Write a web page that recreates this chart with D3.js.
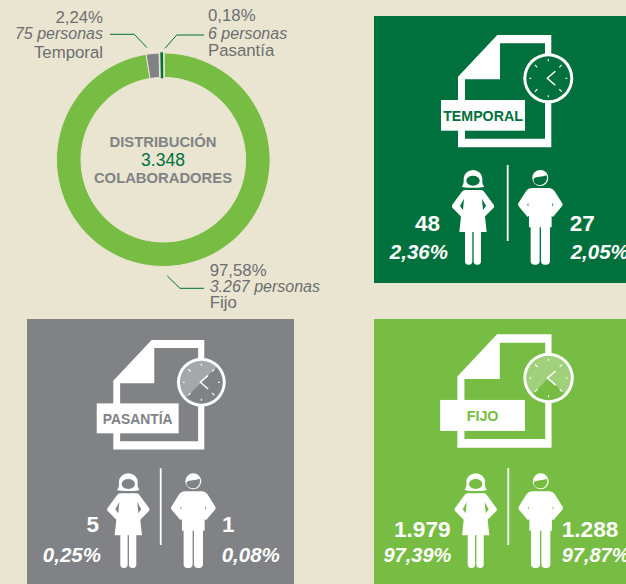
<!DOCTYPE html>
<html>
<head>
<meta charset="utf-8">
<script src="https://cdn.jsdelivr.net/npm/d3@7"></script>
<style>
html, body { margin: 0; padding: 0; background: #e9e5d0; overflow: hidden; }
svg { display: block; }
text { font-family: "Liberation Sans", Arial, sans-serif; }
</style>
</head>
<body>
<svg id="chart" width="626" height="584"></svg>
<script>
// Donut data, in drawing order (clockwise from the top)
var categories = ['Fijo', 'Temporal', 'Pasantía'];
var shareValues = [97.58, 2.24, 0.18];
var shareLabels = ['97,58%', '2,24%', '0,18%'];
var peopleLabels = ['3.267 personas', '75 personas', '6 personas'];

var centerTitle = 'DISTRIBUCIÓN';
var centerTotal = '3.348';
var centerFoot = 'COLABORADORES';

// Panel data
var panelNames = ['TEMPORAL', 'PASANTÍA', 'FIJO'];
var womenCounts = ['48', '5', '1.979'];
var womenShares = ['2,36%', '0,25%', '97,39%'];
var menCounts = ['27', '1', '1.288'];
var menShares = ['2,05%', '0,08%', '97,87%'];

var bg = '#e9e5d0';
var colorFijo = '#77bc43';
var colorGray = '#808285';
var colorDark = '#00703c';
var textGray = '#6d6e71';

var svg = d3.select('#chart');

// ---- donut ----
var cx = 163.3, cy = 159.7, rOuter = 106.8, rInner = 82.3;
var offset = -0.55 * Math.PI / 180;

var pie = d3.pie().sort(null).startAngle(offset).endAngle(offset + 2 * Math.PI);
var arc = d3.arc().innerRadius(rInner).outerRadius(rOuter);
var slices = pie(shareValues);
var sliceColors = [colorFijo, colorGray, colorDark];

var donut = svg.append('g').attr('transform', 'translate(' + [cx, cy] + ')');
donut.selectAll('path.slice')
    .data(slices)
    .enter().append('path')
    .attr('class', 'slice')
    .attr('d', arc)
    .attr('fill', function(d, i) { return sliceColors[i]; })
    .attr('stroke', bg)
    .attr('stroke-width', function(d, i) { return i == 2 ? 5 : 1; });
// the 0,18% slice is too thin to see, thicken it with its own colour
donut.append('path')
    .attr('d', arc(slices[2]))
    .attr('fill', colorDark)
    .attr('stroke', colorDark)
    .attr('stroke-width', 1.5);

// center text
svg.append('text').attr('x', 163).attr('y', 147).attr('text-anchor', 'middle')
    .attr('font-size', 14.8).attr('font-weight', 'bold').attr('fill', colorGray).text(centerTitle);
svg.append('text').attr('x', 163).attr('y', 166).attr('text-anchor', 'middle')
    .attr('font-size', 17.5).attr('fill', colorDark).text(centerTotal);
svg.append('text').attr('x', 163).attr('y', 183).attr('text-anchor', 'middle')
    .attr('font-size', 14.8).attr('font-weight', 'bold').attr('fill', colorGray).text(centerFoot);

// callouts: [x, anchor, baseline of the three lines, leader points]
var callouts = [
    {i: 0, x: 209.7, anchor: 'start', ys: [275.7, 292, 308], line: [[167.3, 276], [180, 288.3], [204, 288.3]]},
    {i: 1, x: 103, anchor: 'end', ys: [23, 39, 58], line: [[110, 34.3], [134.3, 34.3], [147, 47.7]]},
    {i: 2, x: 208, anchor: 'start', ys: [20.7, 38.7, 55.7], line: [[204, 35], [176.7, 35], [165, 48.3]]}
];
callouts.forEach(function(c) {
    var g = svg.append('g').attr('fill', textGray).attr('font-size', 16.8).attr('text-anchor', c.anchor);
    g.append('text').attr('x', c.x).attr('y', c.ys[0]).text(shareLabels[c.i]);
    g.append('text').attr('x', c.x).attr('y', c.ys[1]).attr('font-size', 16).attr('font-style', 'italic').text(peopleLabels[c.i]);
    g.append('text').attr('x', c.x).attr('y', c.ys[2]).text(categories[c.i]);
    svg.append('path').attr('d', d3.line()(c.line)).attr('fill', 'none')
        .attr('stroke', colorDark).attr('stroke-width', 1);
});

// ---- panels ----
var panels = [
    {x: 374, y: 16, w: 252, h: 267, color: colorDark,
     icon: [0, 0, 1], wedge: null, nameX: 109,
     divider: [133.7, 149, 225], woman: [99, 154], man: [166.3, 154],
     countY: 214.7, shareY: 243.3, countL: 66, shareL: 74, countR: 195.7, shareR: 196.7, countSize: 22.5, shareSize: 20.5},
    {x: 27, y: 319, w: 267, h: 265, color: colorGray,
     icon: [4.4, 2.5, 0.975], wedge: [-135, 45], nameX: 109,
     divider: [133.7, 149.3, 226], woman: [101.3, 154.3], man: [166.3, 154.3],
     countY: 213.3, shareY: 243, countL: 72, shareL: 74, countR: 195, shareR: 194.7, countSize: 22.5, shareSize: 20.5},
    {x: 374, y: 319, w: 252, h: 265, color: colorFijo,
     icon: [-1.5, -3.9, 1.01], wedge: [-135, 135], nameX: 109,
     divider: [134.3, 149, 226], woman: [101.7, 154.3], man: [166.7, 154.3],
     countY: 217.7, shareY: 243, countL: 76.7, shareL: 77.3, countR: 187.7, shareR: 187.7, countSize: 22.7, shareSize: 20}
];

// figures are drawn at 3x and scaled down
var womanBody = 'M-24,60 L24,60 Q30,60 34,66 L62,104 Q65,109 62,113 L38,137 L36,140 L41,186 L-41,186 L-36,140 L-38,137 L-62,113 Q-65,109 -62,104 L-34,66 Q-30,60 -24,60 Z' +
    ' M27,86 L39,108 L30,120 Z M-27,86 L-39,108 L-30,120 Z';
var womanHair = 'M-34,50 C-27,43 -28,36 -28,26 A28,26 0 0 1 28,26 C28,36 27,43 34,50 C20,54 10,53 0,53 C-10,53 -20,54 -34,50 Z';
var manBody = 'M-26,54 L26,54 Q36,55 42,62 L66,100 Q68,105 65,109 L38,141 L34,137 L34,172 L-34,172 L-34,137 L-38,141 L-65,109 Q-68,105 -66,100 L-42,62 Q-36,55 -26,54 Z' +
    ' M36,98 L39,104 L36,110 Z M-36,98 L-39,104 L-36,110 Z';
var manFace = 'M-20,26 C-10,18 5,22 19,16 C23,30 15,45 0,45 C-14,45 -22,36 -20,26 Z';

function drawWoman(g, color) {
    g.append('path').attr('d', womanHair).attr('fill', '#fff');
    g.append('ellipse').attr('cx', 0).attr('cy', 32).attr('rx', 20).attr('ry', 15).attr('fill', color);
    g.append('path').attr('d', womanBody).attr('fill', '#fff').attr('fill-rule', 'evenodd');
    g.append('rect').attr('x', -24).attr('y', 180).attr('width', 22).attr('height', 104).attr('rx', 10).attr('fill', '#fff');
    g.append('rect').attr('x', 2).attr('y', 180).attr('width', 22).attr('height', 104).attr('rx', 10).attr('fill', '#fff');
}

function drawMan(g, color) {
    g.append('circle').attr('cx', 0).attr('cy', 24).attr('r', 24).attr('fill', '#fff');
    g.append('path').attr('d', manFace).attr('fill', color);
    g.append('path').attr('d', manBody).attr('fill', '#fff').attr('fill-rule', 'evenodd');
    g.append('rect').attr('x', -29).attr('y', 160).attr('width', 27).attr('height', 124).attr('rx', 12).attr('fill', '#fff');
    g.append('rect').attr('x', 2).attr('y', 160).attr('width', 27).attr('height', 124).attr('rx', 12).attr('fill', '#fff');
}

function drawClock(g, color, wedge) {
    var c = g.append('g').attr('transform', 'translate(174.3,62.3)');
    c.append('circle').attr('r', 25).attr('fill', '#fff');
    c.append('circle').attr('r', 22).attr('fill', color);
    if (wedge) {
        c.append('path')
            .attr('d', d3.arc()({innerRadius: 0, outerRadius: 22,
                startAngle: wedge[0] * Math.PI / 180, endAngle: wedge[1] * Math.PI / 180}))
            .attr('fill', '#fff').attr('fill-opacity', 0.3);
    }
    d3.range(8).forEach(function(k) {
        var a = k * Math.PI / 4, r0 = k % 2 ? 15.5 : 17, r1 = 19;
        c.append('line')
            .attr('x1', r0 * Math.sin(a)).attr('y1', -r0 * Math.cos(a))
            .attr('x2', r1 * Math.sin(a)).attr('y2', -r1 * Math.cos(a))
            .attr('stroke', '#fff').attr('stroke-width', 1.1);
    });
    c.append('path').attr('d', 'M7,-7 L-1,0 L7,7').attr('fill', 'none')
        .attr('stroke', '#fff').attr('stroke-width', 1.5);
}

panels.forEach(function(p, i) {
    var g = svg.append('g').attr('transform', 'translate(' + [p.x, p.y] + ')');
    g.append('rect').attr('width', p.w).attr('height', p.h).attr('fill', p.color);

    // document icon
    var icon = g.append('g').attr('transform', 'translate(' + [p.icon[0], p.icon[1]] + ') scale(' + p.icon[2] + ')');
    icon.append('path')
        .attr('d', 'M123.3,19 L177.3,19 L177.3,131.3 L84,131.3 L84,60.7 Z M126,27.3 L126,63.3 L91,63.3 L91,122.7 L171,122.7 L171,27.3 Z')
        .attr('fill', '#fff').attr('fill-rule', 'evenodd');
    drawClock(icon, p.color, p.wedge);
    icon.append('rect').attr('x', 67).attr('y', 84).attr('width', 84).attr('height', 30.7).attr('fill', '#fff');
    icon.append('text').attr('x', p.nameX).attr('y', 104.7).attr('text-anchor', 'middle')
        .attr('font-size', 14.2).attr('font-weight', 'bold').attr('fill', p.color).text(panelNames[i]);

    // divider and figures
    g.append('line').attr('x1', p.divider[0]).attr('x2', p.divider[0])
        .attr('y1', p.divider[1]).attr('y2', p.divider[2])
        .attr('stroke', '#fff').attr('stroke-width', 1.8);
    drawWoman(g.append('g').attr('transform', 'translate(' + p.woman + ') scale(0.3333)'), p.color);
    drawMan(g.append('g').attr('transform', 'translate(' + p.man + ') scale(0.3333)'), p.color);

    // counts
    var t = g.append('g').attr('fill', '#fff').attr('font-weight', 'bold');
    t.append('text').attr('x', p.countL).attr('y', p.countY).attr('text-anchor', 'end')
        .attr('font-size', p.countSize).text(womenCounts[i]);
    t.append('text').attr('x', p.shareL).attr('y', p.shareY).attr('text-anchor', 'end')
        .attr('font-size', p.shareSize).attr('font-style', 'italic').text(womenShares[i]);
    t.append('text').attr('x', p.countR).attr('y', p.countY)
        .attr('font-size', p.countSize).text(menCounts[i]);
    t.append('text').attr('x', p.shareR).attr('y', p.shareY)
        .attr('font-size', p.shareSize).attr('font-style', 'italic').text(menShares[i]);
});
</script>
</body>
</html>
